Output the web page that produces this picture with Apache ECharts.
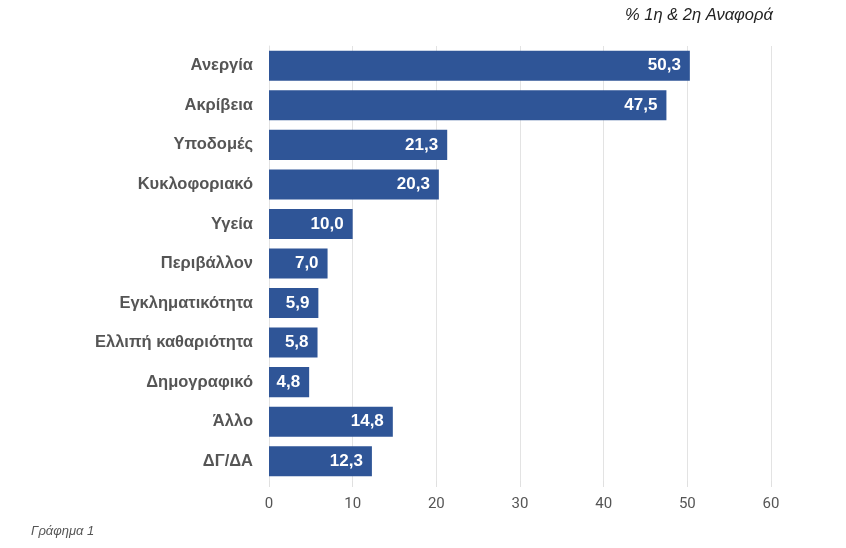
<!DOCTYPE html>
<html>
<head>
<meta charset="utf-8">
<script src="https://cdn.jsdelivr.net/npm/echarts@6/dist/echarts.min.js"></script>
<style>
  html, body { margin: 0; padding: 0; background: #fff; }
  #chart { width: 846px; height: 548px; }
</style>
</head>
<body>
<div id="chart"></div>
<script>
// κατηγορίες και τιμές (% 1η & 2η αναφορά)
var categories = ['Ανεργία', 'Ακρίβεια', 'Υποδομές', 'Κυκλοφοριακό', 'Υγεία', 'Περιβάλλον',
    'Εγκληματικότητα', 'Ελλιπή καθαριότητα', 'Δημογραφικό', 'Άλλο', 'ΔΓ/ΔΑ'];
var values = [50.3, 47.5, 21.3, 20.3, 10.0, 7.0, 5.9, 5.8, 4.8, 14.8, 12.3];
var xTicks = [0, 10, 20, 30, 40, 50, 60];

var myChart = echarts.init(document.getElementById('chart'));

var option = {
    animation: false,
    graphic: [
        {
            type: 'text',
            left: 625,
            top: 7,
            style: {
                text: '% 1η & 2η Αναφορά',
                font: 'italic 16.5px "Liberation Sans", Arial, sans-serif',
                fill: '#222'
            }
        },
        {
            type: 'text',
            left: 31,
            top: 525,
            style: {
                text: 'Γράφημα 1',
                font: 'italic 13px "Liberation Sans", sans-serif',
                fill: '#555'
            }
        }
    ],
    grid: {
        left: 269,
        right: 75,
        top: 46,
        bottom: 67,
        containLabel: false
    },
    xAxis: {
        type: 'value',
        min: xTicks[0],
        max: xTicks[xTicks.length - 1],
        interval: 10,
        axisLine: { show: false },
        axisTick: {
            show: true,
            length: 6,
            lineStyle: { color: '#e0e0e0' }
        },
        splitLine: {
            show: true,
            lineStyle: { color: '#e3e3e3', width: 1 }
        },
        axisLabel: {
            margin: 16,
            color: '#555',
            fontSize: 15,
            fontFamily: 'Roboto, "Liberation Sans", sans-serif'
        }
    },
    yAxis: {
        type: 'category',
        data: categories,
        inverse: true,
        axisLine: { show: true, lineStyle: { color: '#e3e3e3' } },
        axisTick: { show: false },
        axisLabel: {
            margin: 16,
            color: '#555',
            fontSize: 16.5,
            fontWeight: 'bold',
            fontFamily: '"Liberation Sans", Arial, sans-serif'
        }
    },
    series: [
        {
            type: 'bar',
            data: values,
            barCategoryGap: '24%',
            itemStyle: { color: '#2F5597' },
            label: {
                show: true,
                position: 'insideRight',
                distance: 9,
                color: '#fff',
                fontSize: 17,
                fontWeight: 'bold',
                fontFamily: '"Liberation Sans", Arial, sans-serif',
                formatter: function (p) {
                    return p.value.toFixed(1).replace('.', ',');
                }
            }
        }
    ]
};

myChart.setOption(option);
</script>
</body>
</html>
